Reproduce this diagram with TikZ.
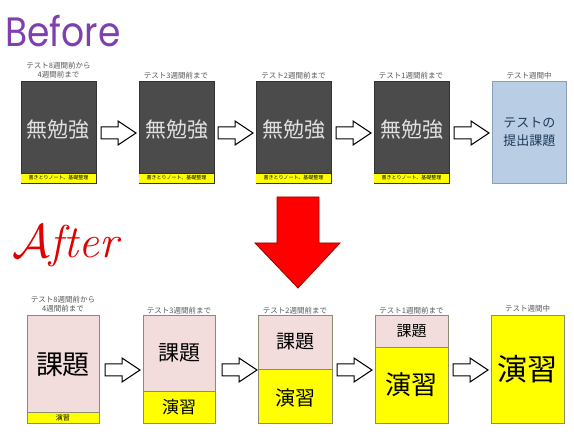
\documentclass[tikz,border=0pt]{standalone}
\usepackage{fontspec}
\newfontfamily\jp{Noto Sans CJK JP}
\newfontfamily\pop{Poppins}
\definecolor{dkbox}{HTML}{4B4B4B}
\definecolor{dkedge}{HTML}{333333}
\definecolor{lblue}{HTML}{B9CDE5}
\definecolor{bedge}{HTML}{8A9FBA}
\definecolor{btext}{HTML}{1F3A5A}
\definecolor{pinkbox}{HTML}{F2DDDC}
\definecolor{ybox}{HTML}{FFFF00}
\definecolor{aedge}{HTML}{8C8C70}
\definecolor{lbl}{HTML}{555555}
\definecolor{purp}{HTML}{7E3FB0}
\definecolor{redA}{HTML}{E00000}
\newcommand{\aftertitle}{\scalebox{1.9}{$\mathcal{A}$}\kern-1pt\textit{fter}}
\begin{document}
\begin{tikzpicture}[x=1pt,y=-1pt,
  lab/.style={font=\jp\fontsize{7.5}{9}\selectfont, text=lbl, inner sep=0, align=center},
  bbox/.style={fill=dkbox, draw=dkedge, line width=0.8pt, anchor=north west, inner sep=0},
  blbox/.style={fill=lblue, draw=bedge, line width=0.8pt, anchor=north west, inner sep=0},
  aedgebox/.style={draw=aedge, line width=0.8pt, anchor=north west, inner sep=0},
  barrow/.pic={\draw[black, line width=1pt, fill=white, line join=miter]
     (0,-6) -- (17,-6) -- (17,-12) -- (35,0) -- (17,12) -- (17,6) -- (0,6) -- cycle;}
]
\useasboundingbox (0,0) rectangle (574,435);
% titles
\node[inner sep=0, text=purp, font=\pop\fontsize{41}{43}\selectfont] (before) at (63,31) {\scalebox{0.88}[1]{Before}};
\node[inner sep=0, text=redA, font=\fontsize{46}{48}\selectfont] (after) at (67,246) {\aftertitle};

% ---------- Before row ----------
\foreach \i/\x in {1/21,2/139,3/256,4/374}{
  \node[bbox, minimum width=75pt, minimum height=102pt] (b\i) at (\x,81) {};
  \fill[ybox] (\x+0.4,173) rectangle (\x+74.6,182.6);
  \draw[dkedge, line width=0.6pt] (\x,173) -- (\x+75,173);
  \node[inner sep=0, font=\jp\fontsize{5}{5}\selectfont] at (\x+37.5,178) {書きとりノート、基礎整理};
  \node[inner sep=0, text=black!12, font=\jp\fontsize{21}{22}\selectfont] at (\x+37.5,130) {無勉強};
}
\node[blbox, minimum width=74pt, minimum height=102pt] (b5) at (492,81) {};
\node[inner sep=0, align=center, text=btext, font=\jp\fontsize{13}{18}\selectfont] at (b5.center) {テストの\\提出課題};

\node[lab] (lb1) at (58.5,70) {テスト8週間前から\\4週間前まで};
\node[lab] (lb2) at (176,75.5) {テスト3週間前まで};
\node[lab] (lb3) at (293.5,75.5) {テスト2週間前まで};
\node[lab] (lb4) at (411,75.5) {テスト1週間前まで};
\node[lab] (lb5) at (529,75.5) {テスト週間中};

\foreach \x in {101,218,336,454}{ \pic at (\x,133) {barrow}; }

% ---------- red arrow ----------
\draw[fill=red, draw=red!60!black, line width=0.8pt, line join=miter]
  (277,197) -- (319,197) -- (319,243) -- (340,243) -- (298,288) -- (255,243) -- (277,243) -- cycle;

% ---------- After row ----------
% box 1
\fill[pinkbox] (27,315) rectangle (99,412);
\fill[ybox] (27,412) rectangle (99,423);
\draw[aedge, line width=0.6pt] (27,412) -- (99,412);
\node[aedgebox, minimum width=72pt, minimum height=108pt] (a1) at (27,315) {};
\node[inner sep=0, font=\jp\fontsize{27}{28}\selectfont] at (63,365) {課題};
\node[inner sep=0, font=\jp\fontsize{7}{7}\selectfont] at (63,417.5) {演習};
% box 2
\fill[pinkbox] (143,315) rectangle (215,391);
\fill[ybox] (143,391) rectangle (215,423);
\draw[aedge, line width=0.6pt] (143,391) -- (215,391);
\node[aedgebox, minimum width=72pt, minimum height=108pt] (a2) at (143,315) {};
\node[inner sep=0, font=\jp\fontsize{21}{22}\selectfont] at (179,353) {課題};
\node[inner sep=0, font=\jp\fontsize{17}{18}\selectfont] at (179,407) {演習};
% box 3
\fill[pinkbox] (258,315) rectangle (332,369);
\fill[ybox] (258,369) rectangle (332,423);
\draw[aedge, line width=0.6pt] (258,369) -- (332,369);
\node[aedgebox, minimum width=74pt, minimum height=108pt] (a3) at (258,315) {};
\node[inner sep=0, font=\jp\fontsize{19}{20}\selectfont] at (295,342) {課題};
\node[inner sep=0, font=\jp\fontsize{20}{21}\selectfont] at (295,398) {演習};
% box 4
\fill[pinkbox] (375,315) rectangle (448,347);
\fill[ybox] (375,347) rectangle (448,423);
\draw[aedge, line width=0.6pt] (375,347) -- (448,347);
\node[aedgebox, minimum width=73pt, minimum height=108pt] (a4) at (375,315) {};
\node[inner sep=0, font=\jp\fontsize{15}{16}\selectfont] at (411.5,331) {課題};
\node[inner sep=0, font=\jp\fontsize{26}{27}\selectfont] at (411.5,385) {演習};
% box 5
\node[aedgebox, fill=ybox, minimum width=73pt, minimum height=108pt] (a5) at (491,315) {};
\node[inner sep=0, font=\jp\fontsize{30}{31}\selectfont] at (a5.center) {演習};

\node[lab] (la1) at (63,304) {テスト8週間前から\\4週間前まで};
\node[lab] (la2) at (179,310.5) {テスト3週間前まで};
\node[lab] (la3) at (295,310.5) {テスト2週間前まで};
\node[lab] (la4) at (411.5,310.5) {テスト1週間前まで};
\node[lab] (la5) at (527.5,309) {テスト週間中};

\foreach \x in {105,222,337,453}{ \pic at (\x,370) {barrow}; }
\end{tikzpicture}
\end{document}
